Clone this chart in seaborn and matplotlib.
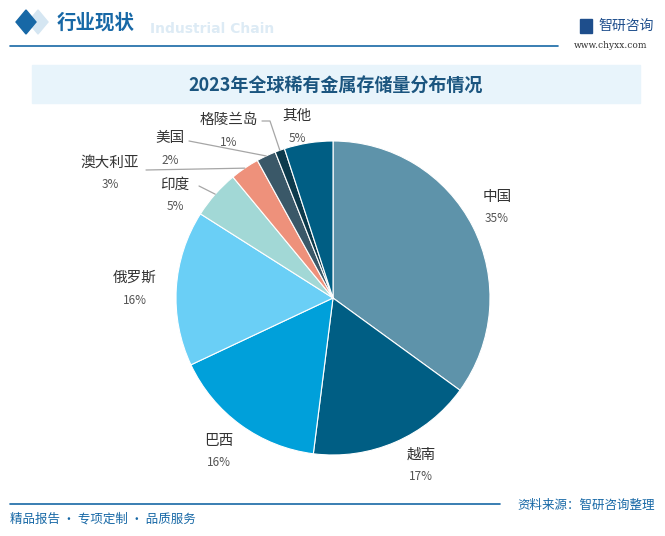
import numpy as np
import matplotlib
matplotlib.use("Agg")
import matplotlib.pyplot as plt
from matplotlib.patches import Rectangle, Polygon
import seaborn as sns

# data
countries = ["中国", "越南", "巴西", "俄罗斯", "印度", "澳大利亚", "美国", "格陵兰岛", "其他"]
shares = [35, 17, 16, 16, 5, 3, 2, 1, 5]
pct_labels = ["35%", "17%", "16%", "16%", "5%", "3%", "2%", "1%", "5%"]
slice_colors = ["#5E93AA", "#005E84", "#00A0DA", "#6ACFF6", "#A2D8D6",
                "#EE917B", "#3A5868", "#0C3A4C", "#005E84"]

title = "2023年全球稀有金属存储量分布情况"

sns.set_theme(style="white")
plt.rcParams["font.family"] = ["Noto Sans CJK SC", "DejaVu Sans"]

W, H = 665, 536
fig = plt.figure(figsize=(W / 100, H / 100), dpi=100)
fig.patch.set_facecolor("white")

# full-figure overlay in pixel coords for the frame decorations
bg = fig.add_axes([0, 0, 1, 1])
bg.set_xlim(0, W)
bg.set_ylim(H, 0)
bg.axis("off")

# header
bg.add_patch(Polygon([[38, 10], [48, 22], [38, 34], [28, 22]], color="#D5E6F2"))
bg.add_patch(Polygon([[26, 10], [36, 22], [26, 34], [16, 22]], color="#1768A6"))
bg.text(150, 29, "Industrial Chain", fontsize=10, color="#DDEBF5",
        fontweight="bold", va="center", family=["DejaVu Sans"])
bg.text(57, 23, "行业现状", fontsize=14, color="#1768A6", fontweight="bold", va="center")
bg.plot([10, 558], [45.5, 45.5], color="#1768A6", lw=1.2)
bg.add_patch(Rectangle((580, 19), 12, 14, color="#1E4E8C"))
bg.text(598, 26, "智研咨询", fontsize=10, color="#1E4E8C", va="center")
bg.text(574, 45, "www.chyxx.com", fontsize=6.5, color="#333333", va="center",
        family=["DejaVu Serif"])

# title banner
bg.add_patch(Rectangle((32, 65), 608, 38, color="#E8F4FB", zorder=0))
bg.text(336, 86, title, fontsize=13, color="#1B557F", fontweight="bold",
        ha="center", va="center")

# footer
bg.plot([10, 500], [504, 504], color="#1768A6", lw=1.2)
bg.text(10, 519, "精品报告 · 专项定制 · 品质服务", fontsize=9, color="#1768A6", va="center")
bg.text(655, 505, "资料来源：智研咨询整理", fontsize=9, color="#1768A6",
        va="center", ha="right")

# pie axes: center (333, 298), radius 157 px
cx, cy, r = 333, 298, 157
ax = fig.add_axes([(cx - r) / W, 1 - (cy + r) / H, 2 * r / W, 2 * r / H])
palette = sns.color_palette(slice_colors)
wedges, _ = ax.pie(shares, colors=palette, startangle=90, counterclock=False,
                   radius=1, wedgeprops=dict(edgecolor="white", linewidth=0.8))
ax.set_xlim(-1, 1)
ax.set_ylim(-1, 1)
ax.set_aspect("equal")
ax.axis("off")


def px(x, y):
    return (x - cx) / r, (cy - y) / r


# label positions (pixel coords of the name text) and optional leader elbows
label_pos = [(497, 197), (421, 455), (219, 441), (135, 278), (175, 185),
             (110, 163), (170, 138), (229, 120), (297, 116)]
leaders = {4: [(199, 186)], 5: [(146, 170)], 6: [(189, 141)], 7: [(262, 121), (270, 121)]}

for i, w in enumerate(wedges):
    x, y = px(*label_pos[i])
    ax.text(x, y, countries[i], fontsize=10.5, color="#333333", ha="center",
            va="center", clip_on=False)
    ax.text(x, y - 22 / r, pct_labels[i], fontsize=8.5, color="#555555",
            ha="center", va="center", clip_on=False)
    if i in leaders:
        ang = np.deg2rad((w.theta1 + w.theta2) / 2)
        pts = [px(*p) for p in leaders[i]] + [(np.cos(ang), np.sin(ang))]
        ax.plot([p[0] for p in pts], [p[1] for p in pts], color="#A6A6A6",
                lw=0.9, clip_on=False)

fig.savefig("out.png", dpi=100, facecolor="white")
